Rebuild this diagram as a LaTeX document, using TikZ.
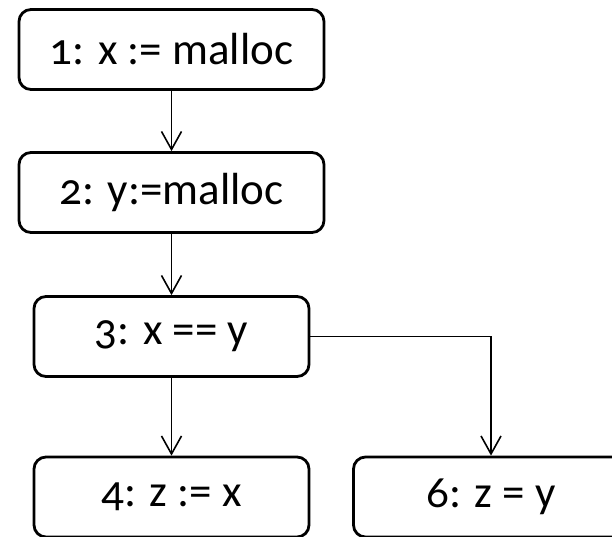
\documentclass[tikz,border=0pt]{standalone}
\usepackage{fontspec}
\setmainfont{Carlito}[Numbers=OldStyle]
\usetikzlibrary{arrows.meta}
\begin{document}
\begin{tikzpicture}[x=1pt,y=-1pt,
  stmt/.style={draw, line width=2.8pt, rounded corners=12pt, rectangle,
    minimum height=80pt, inner sep=0pt, font=\fontsize{45}{50}\selectfont},
  flow/.style={line width=1.6pt, -{Straight Barb[length=18pt,width=20pt,line width=1.6pt]}}]
\useasboundingbox (0,0) rectangle (612,536);
\clip (0,0) rectangle (612,536);
\node[stmt, minimum width=305pt] (s1) at (171.5,49.5) {1: x := malloc};
\node[stmt, minimum width=305pt] (s2) at (171.5,192.5) {2: y:=malloc};
\node[stmt, minimum width=275pt] (s3) at (171.5,336.5) {3: x == y};
\node[stmt, minimum width=275pt] (s4) at (171.5,497) {4: z := x};
\node[stmt, minimum width=275pt] (s6) at (491,497) {6: z = y};
\draw[flow] (s1.south) -- (s2.north);
\draw[flow] (s2.south) -- (s3.north);
\draw[flow] (s3.south) -- (s4.north);
\draw[flow] (s3.east) -| (s6.north);
\end{tikzpicture}
\end{document}
